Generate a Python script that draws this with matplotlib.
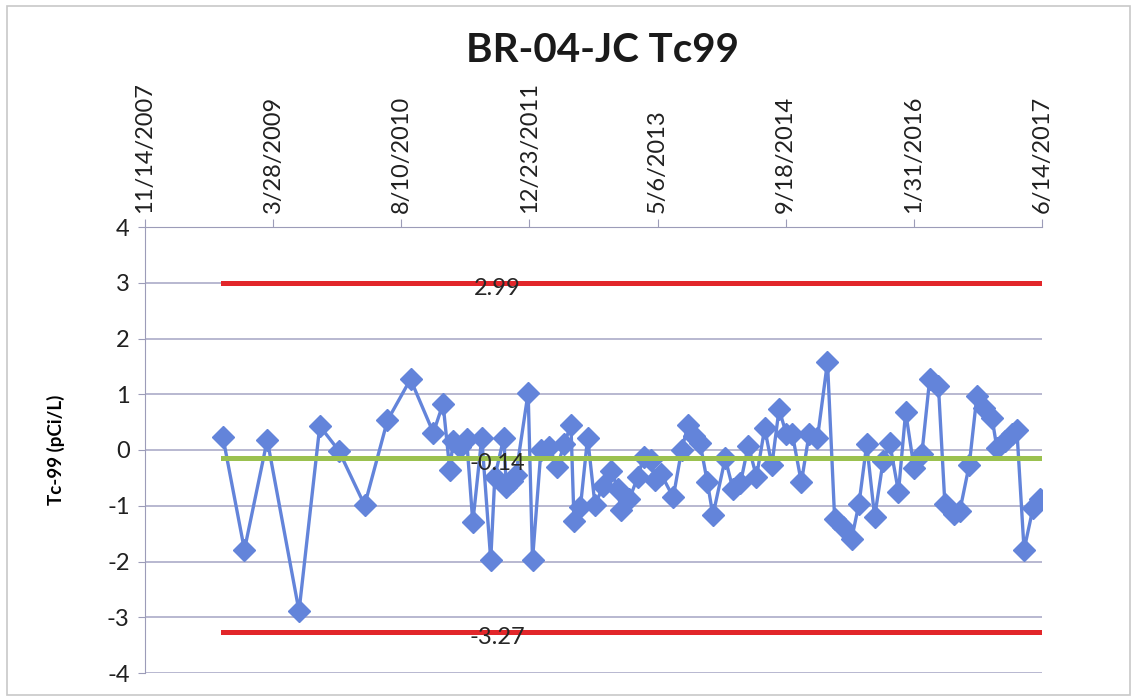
import datetime as dt
import matplotlib
matplotlib.use('Agg')
import matplotlib.pyplot as plt
from matplotlib.patches import Rectangle

# sample dates and Tc-99 results (pCi/L)
dates = [
    '2008-09-13', '2008-12-06', '2009-03-05', '2009-07-07', '2009-09-26',
    '2009-12-09', '2010-03-20', '2010-06-17', '2010-09-15', '2010-12-13',
    '2011-01-20', '2011-02-15', '2011-03-01', '2011-03-26', '2011-04-22',
    '2011-05-16', '2011-06-20', '2011-07-25', '2011-08-10', '2011-09-14',
    '2011-09-24', '2011-10-15', '2011-10-31', '2011-12-18', '2012-01-04',
    '2012-02-06', '2012-03-08', '2012-04-10', '2012-05-06', '2012-06-02',
    '2012-06-14', '2012-07-09', '2012-08-06', '2012-09-04', '2012-10-05',
    '2012-11-05', '2012-12-03', '2012-12-13', '2013-01-16', '2013-02-18',
    '2013-03-13', '2013-04-11', '2013-04-25', '2013-05-20', '2013-07-06',
    '2013-08-08', '2013-09-02', '2013-09-26', '2013-10-19', '2013-11-16',
    '2013-12-08', '2014-01-25', '2014-02-24', '2014-03-25', '2014-04-25',
    '2014-05-27', '2014-06-28', '2014-07-26', '2014-08-23', '2014-09-21',
    '2014-10-14', '2014-11-18', '2014-12-18', '2015-01-20', '2015-02-28',
    '2015-03-28', '2015-04-30', '2015-06-02', '2015-07-01', '2015-07-31',
    '2015-08-31', '2015-10-03', '2015-10-29', '2015-12-02', '2015-12-30',
    '2016-02-01', '2016-03-02', '2016-04-02', '2016-05-06', '2016-05-31',
    '2016-07-05', '2016-07-28', '2016-09-03', '2016-10-03', '2016-10-30',
    '2016-12-01', '2016-12-20', '2017-01-22', '2017-02-17', '2017-03-08',
    '2017-04-05', '2017-05-10', '2017-06-08',
]
tc99 = [
    0.23, -1.79, 0.18, -2.89, 0.43,
    -0.01, -0.99, 0.53, 1.27, 0.31,
    0.83, -0.35, 0.16, 0.05, 0.20,
    -1.30, 0.22, -1.97, -0.48, 0.22,
    -0.67, -0.55, -0.45, 1.03, -1.97,
    0.00, 0.05, -0.30, 0.10, 0.45,
    -1.28, -1.02, 0.22, -0.99, -0.65,
    -0.38, -0.70, -1.08, -0.88, -0.48,
    -0.12, -0.18, -0.54, -0.43, -0.85,
    0.00, 0.45, 0.25, 0.12, -0.57,
    -1.17, -0.15, -0.70, -0.60, 0.08,
    -0.48, 0.39, -0.27, 0.73, 0.28,
    0.28, -0.58, 0.28, 0.22, 1.58,
    -1.24, -1.38, -1.60, -0.96, 0.10,
    -1.20, -0.20, 0.12, -0.75, 0.68,
    -0.33, -0.08, 1.28, 1.14, -0.96,
    -1.15, -1.10, -0.27, 0.97, 0.76,
    0.57, 0.04, 0.16, 0.28, 0.36,
    -1.79, -1.04, -0.87,
]

upper_limit = 2.99
mean_value = -0.14
lower_limit = -3.27
label_date = '2011-08-20'

axis_start = dt.date(2007, 11, 14)
axis_end = dt.date(2017, 6, 14)
tick_step_days = 500

plt.rcParams['font.family'] = ['Lato', 'DejaVu Sans']
plt.rcParams['axes.unicode_minus'] = False

W, H = 1135, 700
fig = plt.figure(figsize=(W / 100, H / 100), dpi=100)
fig.patches.append(Rectangle((7 / W, 5 / H), 1123 / W, 689 / H, transform=fig.transFigure,
                             fill=False, edgecolor='#c8c8c8', linewidth=1.2))

ax = fig.add_axes([145 / W, (H - 673) / H, (1042 - 145) / W, (673 - 227) / H])

x = [dt.datetime.strptime(d, '%Y-%m-%d') for d in dates]
x_lim = [x[0], x[-1]]

ax.plot(x_lim, [upper_limit, upper_limit], color='#e2262a', linewidth=3.6, zorder=2)
ax.plot(x_lim, [lower_limit, lower_limit], color='#e2262a', linewidth=3.6, zorder=2)
ax.plot(x, tc99, color='#6384da', linewidth=2.4, marker='D', markersize=11,
        markerfacecolor='#6384da', markeredgecolor='#6384da', zorder=3)
ax.plot(x_lim, [mean_value, mean_value], color='#9bc14f', linewidth=3.6, zorder=4)

lbl_x = dt.datetime.strptime(label_date, '%Y-%m-%d')
for val in [upper_limit, mean_value, lower_limit]:
    ax.text(lbl_x, val - 0.1, f'{val:.2f}', ha='center', va='center',
            fontsize=17, color='#262626', zorder=5)

ax.set_xlim(axis_start, axis_end)
ax.set_ylim(-4, 4)
ticks = [axis_start + dt.timedelta(days=tick_step_days * i) for i in range(8)]
ax.set_xticks(ticks)
ax.set_xticklabels([f'{t.month}/{t.day}/{t.year}' for t in ticks], rotation=90)
ax.xaxis.tick_top()
ax.set_yticks(range(-4, 5))

ax.grid(axis='y', color='#a4a4c4', linewidth=1.1)
ax.set_axisbelow(True)
for side in ['right', 'bottom']:
    ax.spines[side].set_visible(False)
ax.spines['left'].set_color('#9c9cb8')
ax.spines['top'].set_color('#9c9cb8')
ax.tick_params(axis='x', direction='out', length=6, color='#9c9cb8', labelsize=17,
               labelcolor='#202020', pad=4)
ax.tick_params(axis='y', direction='out', length=5, color='#9c9cb8', labelsize=17,
               labelcolor='#202020', pad=6)

ax.set_ylabel('Tc-99 (pCi/L)', fontsize=13.5, fontweight='bold', labelpad=30)
fig.text(603 / W, (H - 50) / H, 'BR-04-JC Tc99', ha='center', va='center',
         fontsize=29, fontweight='bold', color='#1a1a1a')

fig.savefig('out.png', dpi=100)
